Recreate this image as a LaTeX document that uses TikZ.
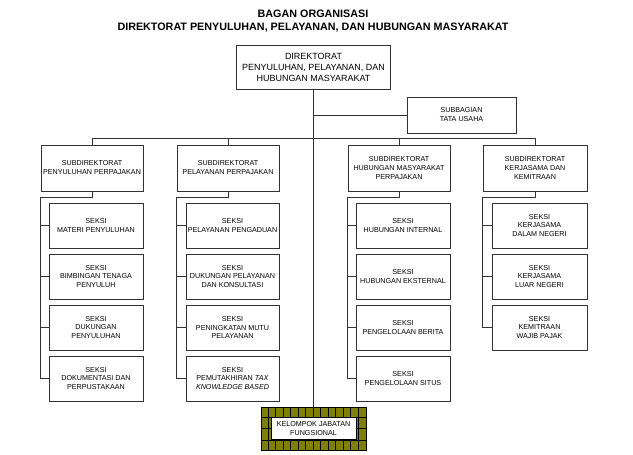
\documentclass[tikz,border=0pt]{standalone}
\usepackage{fontspec}
\setmainfont{Liberation Sans}
\definecolor{linec}{RGB}{50,50,50}
\definecolor{olivec}{RGB}{128,128,0}
\begin{document}
\begin{tikzpicture}[x=1bp,y=-1bp,
  ln/.style={draw=linec, line width=0.8bp},
  box/.style={draw=linec, line width=0.9bp, fill=white, inner sep=0pt, align=center, text=black, font=\fontsize{7.2}{9}\selectfont},
  sdbox/.style={box, minimum width=102bp, minimum height=46bp},
  skbox/.style={box, minimum width=94bp, minimum height=45bp},
  gridln/.style={draw=black, line width=0.7bp},
]
\useasboundingbox (0,0) rectangle (633,455);
\node[font=\bfseries\fontsize{10.8}{13}\selectfont, align=center, inner sep=0pt] (title) at (313,21.5) {BAGAN ORGANISASI\\DIREKTORAT PENYULUHAN, PELAYANAN, DAN HUBUNGAN MASYARAKAT};

\node[box, minimum width=154bp, minimum height=44bp, font=\fontsize{9}{11}\selectfont] (dir) at (313.5,67) {DIREKTORAT\\PENYULUHAN, PELAYANAN, DAN\\HUBUNGAN MASYARAKAT};
\node[box, minimum width=109bp, minimum height=36bp] (sub) at (461.5,115) {SUBBAGIAN\\TATA USAHA};

\node[sdbox] (sd1) at (92,168) {SUBDIREKTORAT\\PENYULUHAN PERPAJAKAN};
\node[sdbox] (sd2) at (228,168) {SUBDIREKTORAT\\PELAYANAN PERPAJAKAN};
\node[sdbox] (sd3) at (399,168) {SUBDIREKTORAT\\HUBUNGAN MASYARAKAT\\PERPAJAKAN};
\node[sdbox, minimum width=104bp] (sd4) at (535,168) {SUBDIREKTORAT\\KERJASAMA DAN\\KEMITRAAN};

% column 1
\node[skbox] (s11) at (96,225.5) {SEKSI\\MATERI PENYULUHAN};
\node[skbox] (s12) at (96,276.5) {SEKSI\\BIMBINGAN TENAGA\\PENYULUH};
\node[skbox] (s13) at (96,327.5) {SEKSI\\DUKUNGAN\\PENYULUHAN};
\node[skbox] (s14) at (96,378.5) {SEKSI\\DOKUMENTASI DAN\\PERPUSTAKAAN};
% column 2
\node[skbox, minimum width=93bp] (s21) at (232.5,225.5) {SEKSI\\PELAYANAN PENGADUAN};
\node[skbox, minimum width=93bp] (s22) at (232.5,276.5) {SEKSI\\DUKUNGAN PELAYANAN\\DAN KONSULTASI};
\node[skbox, minimum width=93bp] (s23) at (232.5,327.5) {SEKSI\\PENINGKATAN MUTU\\PELAYANAN};
\node[skbox, minimum width=93bp] (s24) at (232.5,378.5) {SEKSI\\PEMUTAKHIRAN \textit{TAX}\\\textit{KNOWLEDGE BASED}};
% column 3
\node[skbox] (s31) at (403,225.5) {SEKSI\\HUBUNGAN INTERNAL};
\node[skbox] (s32) at (403,276.5) {SEKSI\\HUBUNGAN EKSTERNAL};
\node[skbox] (s33) at (403,327.5) {SEKSI\\PENGELOLAAN BERITA};
\node[skbox] (s34) at (403,378.5) {SEKSI\\PENGELOLAAN SITUS};
% column 4
\node[skbox, minimum width=95bp] (s41) at (539.5,225.5) {SEKSI\\KERJASAMA\\DALAM NEGERI};
\node[skbox, minimum width=95bp] (s42) at (539.5,276.5) {SEKSI\\KERJASAMA\\LUAR NEGERI};
\node[skbox, minimum width=95bp] (s43) at (539.5,327.5) {SEKSI\\KEMITRAAN\\WAJIB PAJAK};

% kelompok jabatan fungsional
\node[draw=black, line width=0.8bp, fill=olivec, minimum width=105bp, minimum height=43bp, inner sep=0pt] (kel) at (313.5,428.5) {};
\foreach \i in {1,...,13}
  \draw[gridln] ([xshift=\i*7.5bp]kel.north west) -- ([xshift=\i*7.5bp]kel.south west);
\draw[gridln] ([yshift=-11bp]kel.north west) -- ([yshift=-11bp]kel.north east);
\draw[gridln] ([yshift=10bp]kel.south west) -- ([yshift=10bp]kel.south east);
\draw[gridln] (kel.west) -- (kel.east);
\node[box, draw=black, line width=0.8bp, minimum width=85bp, minimum height=22bp] (kelt) at (kel.center) {KELOMPOK JABATAN\\FUNGSIONAL};

% connectors
\draw[ln] (dir.south) -- (kel.north);
\draw[ln] (dir.south |- sub.west) -- (sub.west);
\draw[ln] (sd1.north) -- ++(0,-6) -| (sd4.north);
\draw[ln] (sd2.north) -- ++(0,-6);
\draw[ln] (sd3.north) -- ++(0,-6);

\draw[ln] (sd1.south) -- ++(0,6) -| (sd1.west |- s14.west) -- (s14.west);
\foreach \k in {1,2,3} \draw[ln] (sd1.west |- s1\k.west) -- (s1\k.west);
\draw[ln] (sd2.south) -- ++(0,6) -| (sd2.west |- s24.west) -- (s24.west);
\foreach \k in {1,2,3} \draw[ln] (sd2.west |- s2\k.west) -- (s2\k.west);
\draw[ln] (sd3.south) -- ++(0,6) -| (sd3.west |- s34.west) -- (s34.west);
\foreach \k in {1,2,3} \draw[ln] (sd3.west |- s3\k.west) -- (s3\k.west);
\draw[ln] (sd4.south) -- ++(0,6) -| (sd4.west |- s43.west) -- (s43.west);
\foreach \k in {1,2} \draw[ln] (sd4.west |- s4\k.west) -- (s4\k.west);
\end{tikzpicture}
\end{document}
